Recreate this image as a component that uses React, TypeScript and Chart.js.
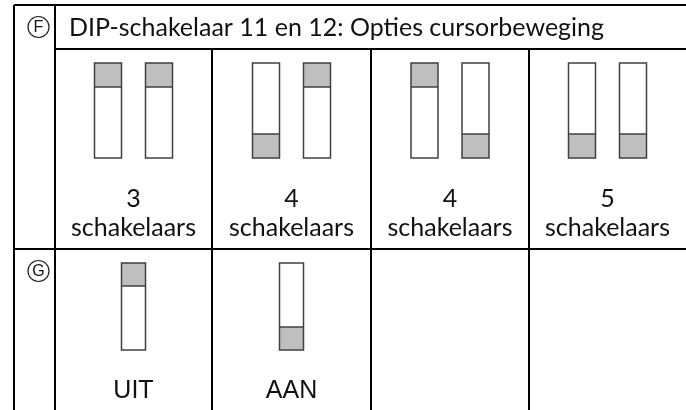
import React, { useEffect, useRef } from "react";
import { Chart, registerables } from "chart.js";

Chart.register(...registerables);

// ---- data ----
const sectionMarkers = ["F", "G"]; // shown enclosed in a circle (Ⓕ, Ⓖ)
const headerTitle = "DIP-schakelaar 11 en 12: Opties cursorbeweging";
const comboCounts = ["3", "4", "4", "5"];
const comboUnit = "schakelaars";
const switch11States = ["up", "down", "up", "down"];
const switch12States = ["up", "up", "down", "down"];
const legendLabels = ["UIT", "AAN"];
const legendStates = ["up", "down"];

// ---- layout (drawing units = pixels of the 686x410 frame) ----
const W = 686;
const H = 410;
const L = {
  top: 5,
  left: 14,
  markerCol: 55,
  headerBottom: 49,
  rowDivider: 249,
  colEdges: [55, 212, 371, 529, 686],
  bottom: 410,
  markerY: [27, 271],
};

const TEXT_FONT = "Lato, 'Open Sans', sans-serif";

const tablePlugin = {
  id: "dipTable",
  afterDraw(chart: any) {
    const { ctx } = chart;
    const xs = chart.scales.x;
    const ys = chart.scales.y;
    const px = (v: number) => xs.getPixelForValue(v);
    const py = (v: number) => ys.getPixelForValue(v);

    ctx.save();
    // grid lines
    ctx.strokeStyle = "#000";
    ctx.lineWidth = 2;
    const line = (x1: number, y1: number, x2: number, y2: number) => {
      ctx.beginPath();
      ctx.moveTo(px(x1), py(y1));
      ctx.lineTo(px(x2), py(y2));
      ctx.stroke();
    };
    line(L.left, L.top, W, L.top);
    line(L.left, L.top, L.left, L.bottom);
    line(L.markerCol, L.top, L.markerCol, L.bottom);
    line(L.markerCol, L.headerBottom, W, L.headerBottom);
    line(L.left, L.rowDivider, W, L.rowDivider);
    for (let i = 1; i < L.colEdges.length - 1; i++) {
      line(L.colEdges[i], L.headerBottom, L.colEdges[i], L.bottom);
    }

    // circled section markers
    for (let i = 0; i < sectionMarkers.length; i++) {
      const cx = px(38.5);
      const cy = py(L.markerY[i]);
      ctx.beginPath();
      ctx.arc(cx, cy, 10.5, 0, Math.PI * 2);
      ctx.strokeStyle = "#222";
      ctx.lineWidth = 1.2;
      ctx.stroke();
      ctx.fillStyle = "#111";
      ctx.textAlign = "center";
      ctx.textBaseline = "middle";
      ctx.font = "16px 'Liberation Sans', Arial, sans-serif";
      ctx.fillText(sectionMarkers[i], cx, cy + 1);
    }

    // header
    ctx.fillStyle = "#111";
    ctx.textAlign = "left";
    ctx.textBaseline = "alphabetic";
    ctx.font = `25px ${TEXT_FONT}`;
    ctx.fillText(headerTitle, px(69), py(36));

    const drawSwitch = (cx: number, top: number, w: number, h: number, gray: number, state: string) => {
      const x0 = px(cx - w / 2);
      const x1 = px(cx + w / 2);
      const y0 = py(top);
      const y1 = py(top + h);
      ctx.fillStyle = "#fff";
      ctx.fillRect(x0, y0, x1 - x0, y1 - y0);
      ctx.fillStyle = "#bfbfbf";
      const gy0 = state === "up" ? y0 : py(top + h - gray);
      const gy1 = state === "up" ? py(top + gray) : y1;
      ctx.fillRect(x0, gy0, x1 - x0, gy1 - gy0);
      ctx.strokeStyle = "#404040";
      ctx.lineWidth = 1.5;
      ctx.strokeRect(x0, y0, x1 - x0, y1 - y0);
      ctx.beginPath();
      const sep = state === "up" ? gy1 : gy0;
      ctx.moveTo(x0, sep);
      ctx.lineTo(x1, sep);
      ctx.stroke();
    };

    // combinations row
    for (let i = 0; i < comboCounts.length; i++) {
      const cx = (L.colEdges[i] + L.colEdges[i + 1]) / 2;
      drawSwitch(cx - 25.5, 63, 27, 95, 24, switch11States[i]);
      drawSwitch(cx + 25.5, 63, 27, 95, 24, switch12States[i]);
      ctx.fillStyle = "#111";
      ctx.textAlign = "center";
      ctx.textBaseline = "alphabetic";
      ctx.font = `25px ${TEXT_FONT}`;
      ctx.fillText(comboCounts[i], px(cx), py(207));
      ctx.fillText(comboUnit, px(cx), py(236));
    }

    // legend row
    for (let i = 0; i < legendLabels.length; i++) {
      const cx = (L.colEdges[i] + L.colEdges[i + 1]) / 2;
      drawSwitch(cx, 263, 24, 87, 23, legendStates[i]);
      ctx.fillStyle = "#111";
      ctx.textAlign = "center";
      ctx.textBaseline = "alphabetic";
      ctx.font = "25px 'Liberation Sans', Arial, sans-serif";
      ctx.fillText(legendLabels[i], px(cx), py(398));
    }
    ctx.restore();
  },
};

export default function App() {
  const ref = useRef<HTMLCanvasElement | null>(null);
  useEffect(() => {
    if (!ref.current) return;
    const chart = new Chart(ref.current, {
      type: "scatter",
      data: { datasets: [{ data: [], pointRadius: 0 }] },
      options: {
        animation: false,
        responsive: false,
        maintainAspectRatio: false,
        devicePixelRatio: 1,
        layout: { padding: 0 },
        plugins: { legend: { display: false }, tooltip: { enabled: false } },
        scales: {
          x: { type: "linear", min: 0, max: W, display: false },
          y: { type: "linear", min: 0, max: H, reverse: true, display: false },
        },
      },
      plugins: [tablePlugin],
    });
    return () => chart.destroy();
  }, []);
  return (
    <div style={{ position: "fixed", left: 0, top: 0, width: W, height: H, background: "#fff" }}>
      <canvas ref={ref} width={W} height={H} style={{ display: "block", width: W, height: H }} />
    </div>
  );
}
